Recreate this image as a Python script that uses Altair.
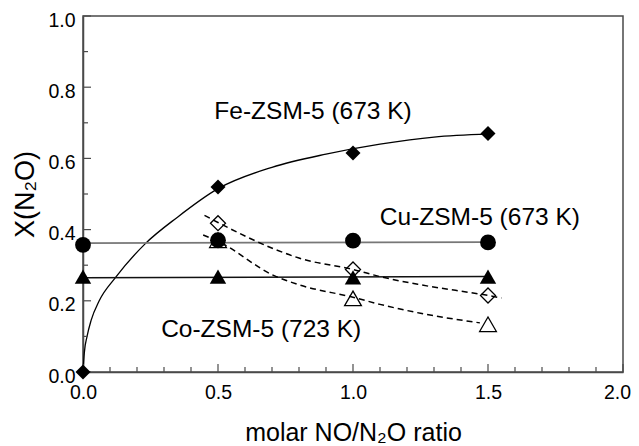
import altair as alt
import pandas as pd

# ---- data ----
x_pts = [0.0, 0.5, 1.0, 1.5]
fe_y = [0.0, 0.52, 0.615, 0.67]          # Fe-ZSM-5, filled diamonds
cu_y = [0.357, 0.37, 0.369, 0.364]       # Cu-ZSM-5, filled circles
co_y = [0.268, 0.268, 0.266, 0.268]      # Co-ZSM-5, filled triangles

x_open = [0.5, 1.0, 1.5]
fe_open_y = [0.418, 0.288, 0.215]        # open diamonds
co_open_y = [0.37, 0.207, 0.134]         # open triangles

# fitted curves
fe_fit_x = [0.0, 0.005, 0.015, 0.03, 0.06, 0.12, 0.23, 0.35, 0.5, 0.7, 0.9, 1.1, 1.3, 1.5]
fe_fit_y = [0.0, 0.055, 0.1, 0.145, 0.2, 0.265, 0.36, 0.435, 0.515, 0.575, 0.612, 0.64, 0.66, 0.668]
cu_fit_x = [0.0, 1.5]
cu_fit_y = [0.362, 0.365]
co_fit_x = [0.0, 1.5]
co_fit_y = [0.265, 0.268]
feo_fit_x = [0.45, 0.5, 0.71, 0.8, 1.0, 1.1, 1.25, 1.5, 1.55]
feo_fit_y = [0.44, 0.42, 0.345, 0.32, 0.288, 0.268, 0.245, 0.215, 0.208]
coo_fit_x = [0.445, 0.5, 0.71, 0.8, 1.0, 1.1, 1.25, 1.47]
coo_fit_y = [0.385, 0.367, 0.27, 0.245, 0.21, 0.19, 0.165, 0.138]

labels = ["Fe-ZSM-5 (673 K)", "Cu-ZSM-5 (673 K)", "Co-ZSM-5 (723 K)"]
label_x = [0.852, 1.47, 0.66]
label_y = [0.73, 0.433, 0.118]

x_major = [0.0, 0.5, 1.0, 1.5, 2.0]
x_minor = [0.1, 0.2, 0.3, 0.4, 0.6, 0.7, 0.8, 0.9, 1.1, 1.2, 1.3, 1.4, 1.6, 1.7, 1.8, 1.9]
y_major = [0.0, 0.2, 0.4, 0.6, 0.8, 1.0]
y_minor = [0.1, 0.3, 0.5, 0.7, 0.9]

W, H = 540, 356
FONT = "Liberation Sans"
AX = "#4a4a4a"

xs = alt.Scale(domain=[0, 2], nice=False, zero=False)
ys = alt.Scale(domain=[0, 1], nice=False, zero=False)

xaxis = alt.Axis(values=x_major, format=".1f", ticks=False, grid=False, labelFlush=False,
                 labelOffset=alt.condition("datum.value >= 2", alt.value(-6), alt.value(0)),
                 labelFont=FONT, labelFontSize=19.5, labelColor="black", labelPadding=11,
                 domainColor=AX, domainWidth=1.5,
                 title="molar NO/N\u2082O ratio", titleFont=FONT, titleFontSize=25,
                 titleFontWeight="normal", titleColor="black",
                 titleX=270, titleY=68, titleBaseline="alphabetic", titleAnchor="middle")
yaxis = alt.Axis(values=y_major, format=".1f", ticks=False, grid=False, labelFlush=False,
                 labelOffset=4,
                 labelFont=FONT, labelFontSize=19.5, labelColor="black", labelPadding=8,
                 domainColor=AX, domainWidth=1.5,
                 title="X(N\u2082O)", titleFont=FONT, titleFontSize=27,
                 titleFontWeight="normal", titleColor="black", titleAngle=-90,
                 titleX=-58, titleY=178, titleBaseline="middle", titleAlign="center")


def line_layer(xv, yv, color, width, dash=None, interp="monotone"):
    df = pd.DataFrame({"x": xv, "y": yv})
    kw = dict(color=color, strokeWidth=width, interpolate=interp)
    if dash:
        kw["strokeDash"] = dash
    return alt.Chart(df).mark_line(**kw).encode(
        x=alt.X("x:Q", scale=xs, axis=xaxis), y=alt.Y("y:Q", scale=ys, axis=yaxis))


def pt_layer(xv, yv, shape, size, filled, width=1.3):
    df = pd.DataFrame({"x": xv, "y": yv})
    if filled:
        m = alt.Chart(df).mark_point(shape=shape, size=size, filled=True, color="black", opacity=1)
    else:
        m = alt.Chart(df).mark_point(shape=shape, size=size, filled=False, color="black",
                                     strokeWidth=width, opacity=1)
    return m.encode(x=alt.X("x:Q", scale=xs), y=alt.Y("y:Q", scale=ys))


def tick_layer(vals, channel, length):
    df = pd.DataFrame({"v": vals})
    if channel == "x":
        return alt.Chart(df).mark_rule(color=AX, strokeWidth=1.2).encode(
            x=alt.X("v:Q", scale=xs), y=alt.value(H), y2=alt.value(H - length))
    return alt.Chart(df).mark_rule(color=AX, strokeWidth=1.2).encode(
        y=alt.Y("v:Q", scale=ys), x=alt.value(0), x2=alt.value(length))


lab_df = pd.DataFrame({"t": labels, "x": label_x, "y": label_y})
texts = alt.Chart(lab_df).mark_text(font=FONT, fontSize=24.5, color="black",
                                    align="center", baseline="middle").encode(
    x=alt.X("x:Q", scale=xs), y=alt.Y("y:Q", scale=ys), text="t:N")

chart = alt.layer(
    line_layer(fe_fit_x, fe_fit_y, "black", 1.3),
    line_layer(cu_fit_x, cu_fit_y, "#777777", 1.8, interp="linear"),
    line_layer(co_fit_x, co_fit_y, "#111111", 1.5, interp="linear"),
    line_layer(feo_fit_x, feo_fit_y, "black", 1.5, dash=[6, 4]),
    line_layer(coo_fit_x, coo_fit_y, "black", 1.5, dash=[6, 4]),
    tick_layer(x_major, "x", 8),
    tick_layer(x_minor, "x", 5),
    tick_layer(y_major, "y", 8),
    tick_layer(y_minor, "y", 5),
    pt_layer(x_pts, co_y, "triangle-up", 270, True),
    pt_layer(x_pts, cu_y, "circle", 250, True),
    pt_layer(x_pts, fe_y, "diamond", 225, True),
    pt_layer(x_open, fe_open_y, "diamond", 225, False),
    pt_layer(x_open, co_open_y, "triangle-up", 280, False),
    texts,
).properties(
    width=W, height=H,
    autosize=alt.AutoSizeParams(type="none"),
    padding={"left": 75, "top": 8, "right": 8, "bottom": 74},
    background="white",
).configure_view(stroke=AX, strokeWidth=1.5)

chart.save("out.html", embed_options={"renderer": "svg", "actions": False})
